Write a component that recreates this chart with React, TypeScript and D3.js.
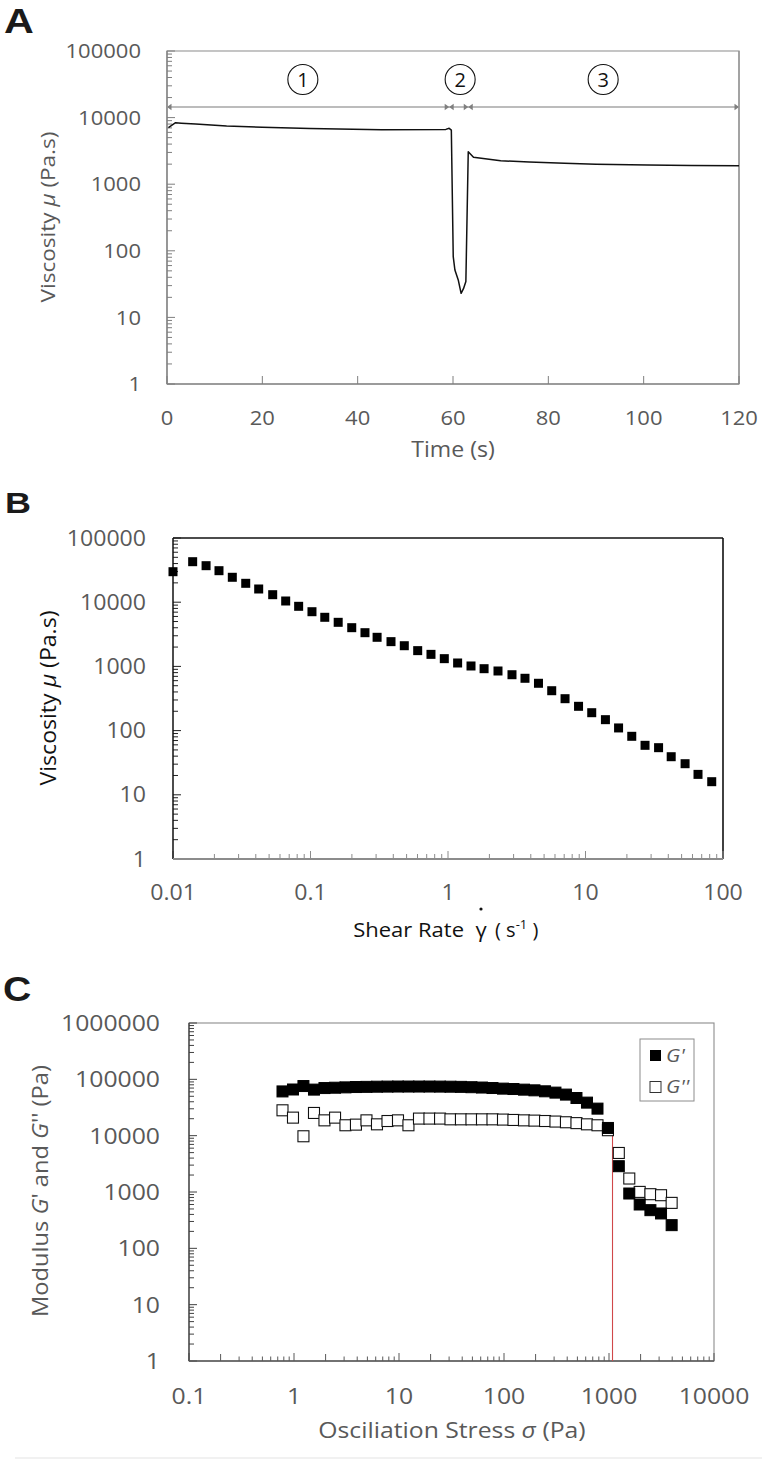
import React from 'react';
import * as d3 from 'd3';

// ---------- Panel A: viscosity vs time (three-interval thixotropy test)
const timeA = [0.3, 1.8, 3, 6, 12.5, 20, 30, 45, 58.5, 59.2, 59.65, 60.05, 60.4, 61.1, 61.7, 62.2, 62.7, 63.2, 64.3, 70, 76, 83.4, 90, 100.8, 110, 120];
const viscA = [7100, 8380, 8250, 8000, 7480, 7150, 6850, 6550, 6650, 6900, 6500, 81.5, 51.5, 36.5, 23, 27, 34.5, 3075, 2535, 2255, 2150, 2060, 2000, 1942, 1915, 1896];
const timeTicksA = [0, 20, 40, 60, 80, 100, 120];
const viscTicks = [1, 10, 100, 1000, 10000, 100000];
const phaseBounds = [0, 59.2, 63.2, 120];
const phaseNames = ['1', '2', '3'];
const phaseLabelT = [28.5, 61.5, 91.5];

// ---------- Panel B: viscosity vs shear rate
const shearRate = [0.01, 0.0139, 0.0174, 0.0216, 0.027, 0.0338, 0.042, 0.0531, 0.066, 0.082, 0.1025, 0.127, 0.159, 0.1995, 0.249, 0.305, 0.385, 0.481, 0.602, 0.752, 0.94, 1.175, 1.47, 1.83, 2.31, 2.92, 3.63, 4.55, 5.68, 7.1, 8.9, 11.1, 13.96, 17.4, 21.7, 27.1, 34, 42, 53, 65.8, 82.8];
const viscB = [29860, 42750, 37050, 30960, 24440, 19690, 16060, 13090, 10440, 8630, 7110, 5820, 4860, 4010, 3350, 2840, 2430, 2100, 1760, 1540, 1320, 1130, 1015, 921, 848, 742, 653, 546, 418, 314, 239, 190, 148, 110, 81.5, 59, 54.2, 39.2, 30.5, 20.8, 16.0];
const shearTicks = [0.01, 0.1, 1, 10, 100];

// ---------- Panel C: amplitude sweep
const stressC = [0.777, 0.978, 1.23, 1.55, 1.95, 2.46, 3.09, 3.89, 4.9, 6.17, 7.77, 9.78, 12.3, 15.5, 19.5, 24.6, 30.9, 38.9, 49, 61.7, 77.7, 97.8, 123, 155, 195, 246, 309, 389, 490, 617, 777, 977, 1240, 1560, 1960, 2480, 3130, 3950];
const gPrime = [61000, 66000, 76000, 65700, 70000, 71000, 72000, 73000, 73500, 74000, 74300, 74500, 74500, 74500, 74500, 74300, 74000, 73500, 72500, 71500, 70100, 68400, 67300, 65600, 63800, 61300, 58100, 53600, 46600, 38600, 30200, 13700, 2870, 940, 600, 476, 416, 258];
const gDoublePrime = [28200, 20900, 9760, 25300, 18700, 20900, 15300, 15700, 18700, 15900, 18200, 18700, 15300, 20100, 20100, 20100, 19500, 19500, 19500, 19500, 19500, 19300, 19000, 18700, 18500, 18200, 17800, 17300, 16700, 15900, 15300, 12500, 4930, 1735, 1004, 914, 877, 641];
const stressTicks = [0.1, 1, 10, 100, 1000, 10000];
const modulusTicks = [1, 10, 100, 1000, 10000, 100000, 1000000];
const yieldStress = 1080;
const yieldLineTop = 13500;

const STR = 1.1;
const LABEL = '#595959';
const FONT = "'Open Sans', sans-serif";

function T(props: any) {
  const { x, y, rotate, anchor = 'middle', size = 20, fill = LABEL, italic, weight, family = FONT, dy, children, sx = STR } = props;
  const tr = `translate(${x},${y})` + (rotate ? ` rotate(${rotate})` : '') + ` scale(${sx},1)`;
  return (
    <text transform={tr} textAnchor={anchor} fontSize={size} fill={fill} fontFamily={family}
      fontStyle={italic ? 'italic' : 'normal'} fontWeight={weight || 'normal'} dy={dy}>
      {children}
    </text>
  );
}

const isMajor = (v: number) => Math.abs(Math.log10(v) - Math.round(Math.log10(v))) < 1e-6;

function tri(xTip: number, y: number, dir: number) {
  const b = xTip - dir * 4.5;
  return `${xTip},${y} ${b},${y - 3.2} ${b},${y + 3.2}`;
}

export default function App() {
  // ---- scales
  const xA = d3.scaleLinear().domain([0, 120]).range([167, 739]);
  const yA = d3.scaleLog().domain([1, 100000]).range([384, 51]);
  const xB = d3.scaleLog().domain([0.01, 100]).range([173, 723]);
  const yB = d3.scaleLog().domain([1, 100000]).range([859, 538]);
  const xC = d3.scaleLog().domain([0.1, 10000]).range([189, 714]);
  const yC = d3.scaleLog().domain([1, 1000000]).range([1361, 1023]);

  const lineA = d3.line<number>().x((_, i) => xA(timeA[i])).y((_, i) => yA(viscA[i]));

  const [a0, a1] = xA.range();
  const [aB, aT] = yA.range();
  const [b0, b1] = xB.range();
  const [bB, bT] = yB.range();
  const [c0, c1] = xC.range();
  const [cB, cT] = yC.range();
  const arrowY = 107;

  return (
    <svg width={762} height={1462} style={{ position: 'absolute', left: 0, top: 0, background: '#fff' }}>
      <rect x={0} y={0} width={762} height={1462} fill="#fff" />

      {/* ================= PANEL A ================= */}
      <T x={4} y={33} size={35} weight="bold" fill="#1a1a1a" family="'Liberation Sans', Arial, sans-serif" anchor="start" sx={1.18}>A</T>
      <rect x={a0} y={aT} width={a1 - a0} height={aB - aT} fill="none" stroke="#a6a6a6" strokeWidth={1.3} />
      <line x1={a0} x2={a0} y1={aT} y2={aB} stroke="#7f7f7f" strokeWidth={1.3} />
      <line x1={a0} x2={a1} y1={aB} y2={aB} stroke="#8c8c8c" strokeWidth={1.5} />
      <line x1={a1} x2={a1} y1={aT} y2={aB} stroke="#8c8c8c" strokeWidth={1.2} />
      {yA.ticks().map((v, i) => (
        <line key={'ayt' + i} x1={a0} x2={a0 + (isMajor(v) ? 8 : 5)} y1={yA(v)} y2={yA(v)} stroke="#7f7f7f" strokeWidth={1} />
      ))}
      {timeTicksA.map((v) => (
        <line key={'axt' + v} x1={xA(v)} x2={xA(v)} y1={aB} y2={aB - 8} stroke="#7f7f7f" strokeWidth={1} />
      ))}
      {viscTicks.map((v) => (
        <T key={'ayl' + v} x={141} y={yA(v)} anchor="end" dy="0.36em" size={20}>{String(v)}</T>
      ))}
      {timeTicksA.map((v) => (
        <T key={'axl' + v} x={xA(v)} y={425} size={20}>{String(v)}</T>
      ))}
      <T x={453} y={457} size={21}>Time (s)</T>
      <T x={55} y={217} rotate={-90} size={20.5}>Viscosity <tspan fontStyle="italic">μ</tspan> (Pa.s)</T>

      {/* phase arrows */}
      <line x1={a0} x2={a1} y1={arrowY} y2={arrowY} stroke="#a6a6a6" strokeWidth={1.3} />
      {phaseBounds.slice(0, 3).map((t, i) => (
        <g key={'ph' + i} fill="#7f7f7f">
          <polygon points={tri(xA(t), arrowY, -1)} />
          <polygon points={tri(xA(phaseBounds[i + 1]), arrowY, 1)} />
        </g>
      ))}
      {phaseNames.map((n, i) => (
        <g key={'pn' + i}>
          <circle cx={xA(phaseLabelT[i])} cy={79.5} r={15} fill="none" stroke="#111" strokeWidth={1.1} />
          <T x={xA(phaseLabelT[i])} y={79.5} dy="0.36em" size={20} fill="#111" sx={1}>{n}</T>
        </g>
      ))}
      <path d={lineA(viscA) || ''} fill="none" stroke="#111" strokeWidth={1.5} strokeLinejoin="round" />

      {/* ================= PANEL B ================= */}
      <T x={5} y={513} size={30} weight="bold" fill="#1a1a1a" family="'Liberation Sans', Arial, sans-serif" anchor="start" sx={1.2}>B</T>
      <line x1={b0} x2={b1} y1={bT} y2={bT} stroke="#111" strokeWidth={1.6} />
      <line x1={b1} x2={b1} y1={bT} y2={bB} stroke="#111" strokeWidth={1.6} />
      {yB.ticks().map((v, i) => (
        <line key={'byt' + i} x1={b0} x2={b0 + (isMajor(v) ? 8 : 5)} y1={yB(v)} y2={yB(v)} stroke="#222" strokeWidth={1} />
      ))}
      {xB.ticks().map((v, i) => (
        <line key={'bxt' + i} x1={xB(v)} x2={xB(v)} y1={bB} y2={bB - (isMajor(v) ? 8 : 5)} stroke="#8c8c8c" strokeWidth={1} />
      ))}
      <line x1={b0} x2={b0} y1={bT} y2={bB} stroke="#111" strokeWidth={1.5} />
      <line x1={b0} x2={b1} y1={bB} y2={bB} stroke="#8c8c8c" strokeWidth={2} />
      {viscTicks.map((v) => (
        <T key={'byl' + v} x={146} y={yB(v)} anchor="end" dy="0.36em" size={21}>{String(v)}</T>
      ))}
      {shearTicks.map((v) => (
        <T key={'bxl' + v} x={xB(v)} y={900} size={21}>{String(v)}</T>
      ))}
      <T x={56} y={698} rotate={-90} size={21} fill="#111">Viscosity <tspan fontStyle="italic">μ</tspan> (Pa.s)</T>
      <T x={464} y={937} anchor="end" size={20} fill="#111">Shear Rate</T>
      <T x={481} y={937} size={20} fill="#111">γ</T>
      <circle cx={481} cy={909} r={1.6} fill="#111" />
      <text x={495} y={937} fontSize={20} fill="#111" fontFamily={FONT}>
        {'( '}<tspan fontStyle="normal">s</tspan><tspan dy={-8} fontSize={13}>-1</tspan><tspan dy={8}>{' )'}</tspan>
      </text>
      {viscB.map((v, i) => (
        <rect key={'bp' + i} x={xB(shearRate[i]) - 4.5} y={yB(v) - 4.5} width={9} height={9} fill="#000" />
      ))}

      {/* ================= PANEL C ================= */}
      <T x={3} y={1001} size={35} weight="bold" fill="#1a1a1a" family="'Liberation Sans', Arial, sans-serif" anchor="start" sx={1.12}>C</T>
      <rect x={c0} y={cT} width={c1 - c0} height={cB - cT} fill="none" stroke="#8c8c8c" strokeWidth={1.1} />
      {yC.ticks().map((v, i) => (
        <line key={'cyt' + i} x1={c0} x2={c0 + (isMajor(v) ? 8 : 5)} y1={yC(v)} y2={yC(v)} stroke="#404040" strokeWidth={1} />
      ))}
      {xC.ticks().map((v, i) => {
        const m = Math.round(v / Math.pow(10, Math.floor(Math.log10(v) + 1e-9)));
        const len = isMajor(v) ? 8 : m === 2 ? 7 : 4.5;
        return <line key={'cxt' + i} x1={xC(v)} x2={xC(v)} y1={cB} y2={cB - len} stroke="#595959" strokeWidth={1} />;
      })}
      <line x1={c0} x2={c0} y1={cT} y2={cB} stroke="#404040" strokeWidth={1.3} />
      <line x1={c0} x2={c1} y1={cB} y2={cB} stroke="#595959" strokeWidth={1.4} />
      {modulusTicks.map((v) => (
        <T key={'cyl' + v} x={160} y={yC(v)} anchor="end" dy="0.36em" size={22.5}>{String(v)}</T>
      ))}
      {stressTicks.map((v) => (
        <T key={'cxl' + v} x={xC(v)} y={1404} size={22.5}>{String(v)}</T>
      ))}
      <T x={452} y={1438} size={22.5}>Osciliation Stress <tspan fontStyle="italic">σ</tspan> (Pa)</T>
      <T x={48} y={1191} rotate={-90} size={21.5}>Modulus <tspan fontStyle="italic">G</tspan>' and <tspan fontStyle="italic">G</tspan>'' (Pa)</T>

      <line x1={xC(yieldStress)} x2={xC(yieldStress)} y1={yC(yieldLineTop)} y2={cB} stroke="#d0484a" strokeWidth={1.1} />
      {gDoublePrime.map((v, i) => (
        <rect key={'gpp' + i} x={xC(stressC[i]) - 5.5} y={yC(v) - 5.5} width={11} height={11} fill="#fff" stroke="#111" strokeWidth={1.1} />
      ))}
      {gPrime.map((v, i) => (
        <rect key={'gp' + i} x={xC(stressC[i]) - 5.5} y={yC(v) - 5.5} width={11} height={11} fill="#000" stroke="#000" strokeWidth={1} />
      ))}

      {/* legend */}
      <rect x={640} y={1039} width={54} height={62} fill="#fff" stroke="#8c8c8c" strokeWidth={1} />
      <rect x={650} y={1050} width={11} height={11} fill="#000" />
      <T x={666} y={1062} anchor="start" size={19} italic>G'</T>
      <rect x={650} y={1081.5} width={11} height={11} fill="#fff" stroke="#333" strokeWidth={1} />
      <T x={666} y={1093} anchor="start" size={19} italic>G''</T>

      <line x1={15} x2={762} y1={1458} y2={1458} stroke="#e3e3e3" strokeWidth={1} />
    </svg>
  );
}
